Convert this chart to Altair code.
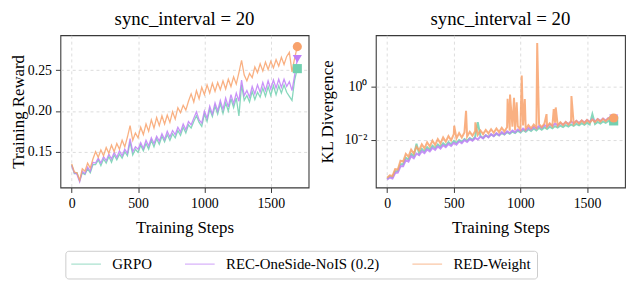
import altair as alt
import pandas as pd

FONT = "Liberation Serif"

SERIES = ["GRPO", "REC-OneSide-NoIS (0.2)", "RED-Weight"]
COLORS = ["#72d0b0", "#bf80f7", "#f8a26c"]
SHAPES = ["square", "triangle-down", "circle"]

STEPS = list(range(0, 1701, 20))

GRPO_REWARD = [
    .134, .123, .124, .114, .124, .122, .129, .124, .134, .134,
    .140, .133, .141, .136, .144, .137, .146, .140, .147, .142,
    .150, .145, .162, .146, .153, .149, .158, .151, .160, .153,
    .164, .156, .166, .159, .169, .162, .171, .164, .172, .167,
    .176, .170, .180, .173, .183, .179, .187, .194, .186, .181,
    .196, .187, .202, .193, .206, .196, .209, .197, .210, .200,
    .215, .204, .216, .194, .232, .213, .219, .211, .224, .214,
    .223, .217, .228, .218, .230, .219, .231, .220, .231, .222,
    .232, .223, .218, .213, .238, .252,
]
REC_REWARD = [
    .133, .124, .122, .113, .126, .123, .131, .126, .137, .136,
    .142, .136, .144, .139, .147, .141, .149, .143, .151, .145,
    .153, .148, .166, .150, .156, .153, .161, .154, .164, .157,
    .167, .160, .169, .163, .172, .165, .175, .168, .176, .171,
    .180, .174, .184, .177, .187, .183, .191, .199, .189, .185,
    .200, .191, .206, .196, .210, .200, .213, .202, .216, .205,
    .220, .209, .222, .212, .238, .219, .225, .217, .230, .221,
    .232, .223, .235, .225, .237, .227, .238, .228, .239, .229,
    .239, .230, .236, .225, .244, .264,
]
RED_REWARD = [
    .135, .125, .124, .115, .129, .126, .136, .130, .141, .150,
    .143, .152, .145, .155, .148, .158, .150, .160, .153, .164,
    .156, .168, .182, .164, .173, .167, .180, .171, .184, .175,
    .189, .179, .192, .182, .194, .184, .195, .186, .199, .190,
    .204, .198, .207, .201, .212, .221, .211, .225, .215, .229,
    .220, .232, .222, .234, .224, .235, .226, .237, .227, .239,
    .230, .242, .233, .247, .262, .244, .237, .246, .241, .254,
    .247, .258, .249, .260, .251, .261, .253, .263, .255, .266,
    .257, .267, .272, .248, .265, .279,
]

GRPO_KL = [
    3.4e-4, 4.2e-4, 3.9e-4, 6.5e-4, 6.6e-4, 1.2e-3, 1.2e-3, 2.1e-3, 1.8e-3, 2.9e-3,
    2.4e-3, 7.0e-3, 3.0e-3, 4.5e-3, 3.6e-3, 5.2e-3, 4.2e-3, 5.9e-3, 4.8e-3, 6.6e-3,
    5.4e-3, 7.3e-3, 6.0e-3, 8.0e-3, 6.7e-3, 8.8e-3, 7.5e-3, 9.6e-3, 8.2e-3, 1.05e-2,
    9.0e-3, 1.15e-2, 9.8e-3, 1.25e-2, 4.5e-2, 1.35e-2, 1.15e-2, 1.45e-2, 1.25e-2, 1.55e-2,
    1.35e-2, 1.65e-2, 1.45e-2, 1.75e-2, 1.55e-2, 1.9e-2, 1.65e-2, 2.0e-2, 1.75e-2, 2.15e-2,
    1.85e-2, 2.3e-2, 1.95e-2, 2.45e-2, 2.1e-2, 2.6e-2, 2.2e-2, 2.75e-2, 2.35e-2, 2.9e-2,
    2.5e-2, 3.05e-2, 2.65e-2, 3.2e-2, 2.8e-2, 3.35e-2, 2.95e-2, 3.5e-2, 3.1e-2, 3.7e-2,
    3.25e-2, 3.9e-2, 3.4e-2, 4.1e-2, 3.55e-2, 4.25e-2, 3.7e-2, 9.0e-2, 3.85e-2, 4.6e-2,
    4.0e-2, 4.8e-2, 4.2e-2, 5.0e-2, 4.4e-2, 5.2e-2,
]
REC_KL = [
    3.2e-4, 3.8e-4, 3.5e-4, 5.6e-4, 5.8e-4, 1.0e-3, 1.0e-3, 1.7e-3, 1.5e-3, 2.4e-3,
    2.0e-3, 3.0e-3, 2.6e-3, 3.7e-3, 3.1e-3, 4.3e-3, 3.6e-3, 4.9e-3, 4.1e-3, 5.5e-3,
    4.6e-3, 6.2e-3, 5.2e-3, 6.9e-3, 5.8e-3, 7.6e-3, 6.5e-3, 8.5e-3, 7.3e-3, 9.5e-3,
    8.1e-3, 1.05e-2, 9.0e-3, 1.15e-2, 1.0e-2, 1.3e-2, 1.1e-2, 1.45e-2, 1.2e-2, 1.6e-2,
    1.35e-2, 1.75e-2, 1.45e-2, 1.9e-2, 1.6e-2, 2.05e-2, 1.75e-2, 2.2e-2, 1.9e-2, 2.4e-2,
    2.05e-2, 2.6e-2, 2.2e-2, 2.8e-2, 2.4e-2, 3.0e-2, 2.6e-2, 3.25e-2, 2.8e-2, 3.5e-2,
    3.0e-2, 3.75e-2, 3.2e-2, 4.0e-2, 3.4e-2, 4.2e-2, 3.6e-2, 4.5e-2, 3.8e-2, 4.8e-2,
    4.0e-2, 5.0e-2, 4.2e-2, 5.2e-2, 4.4e-2, 5.4e-2, 4.6e-2, 5.7e-2, 4.8e-2, 5.9e-2,
    5.0e-2, 6.2e-2, 5.2e-2, 6.4e-2, 5.4e-2, 6.2e-2,
]
RED_KL = [
    3.7e-4, 4.6e-4, 4.3e-4, 7.8e-4, 7.6e-4, 1.6e-3, 1.5e-3, 2.9e-3, 2.3e-3, 4.2e-3,
    3.0e-3, 5.4e-3, 3.9e-3, 6.6e-3, 4.7e-3, 7.9e-3, 5.5e-3, 9.1e-3, 6.3e-3, 1.05e-2,
    7.2e-3, 1.2e-2, 8.3e-3, 1.35e-2, 9.4e-3, 1.6e-2, 1.1e-2, 1.75e-2, 1.2e-2, 1.85e-2,
    1.3e-2, 1.95e-2, 1.4e-2, 2.05e-2, 1.5e-2, 2.2e-2, 1.6e-2, 2.3e-2, 1.7e-2, 2.45e-2,
    1.8e-2, 2.6e-2, 1.9e-2, 2.75e-2, 2.0e-2, 2.9e-2, 2.15e-2, 3.05e-2, 2.25e-2, 3.2e-2,
    2.4e-2, 3.35e-2, 2.5e-2, 3.5e-2, 2.65e-2, 3.65e-2, 2.8e-2, 3.8e-2, 2.9e-2, 3.95e-2,
    3.05e-2, 4.1e-2, 3.2e-2, 4.3e-2, 3.35e-2, 4.45e-2, 3.5e-2, 4.6e-2, 3.65e-2, 4.8e-2,
    3.8e-2, 5.0e-2, 3.95e-2, 5.2e-2, 4.1e-2, 5.4e-2, 4.3e-2, 5.6e-2, 4.5e-2, 5.8e-2,
    4.7e-2, 6.0e-2, 4.9e-2, 6.2e-2, 5.1e-2, 6.4e-2,
]
RED_KL_SPIKE_STEPS = [503, 592, 662, 904, 922, 952, 972, 1010, 1033, 1126, 1196, 1250, 1265, 1383]
RED_KL_SPIKE_VALUES = [0.033, 0.12, 0.044, 0.34, 0.49, 0.37, 0.25, 2.5, 0.33, 41.0, 0.09, 0.14, 0.16, 0.43]

MARKER_STEP = 1700
REWARD_MARKERS = [0.252, 0.264, 0.279]
KL_MARKERS = [0.05, 0.062, 0.064]

X_TICKS = [0, 500, 1000, 1500]
REWARD_TICKS = [0.15, 0.20, 0.25]
KL_TICKS = [0.01, 1]

# ---- data tables ----
rows = []
for name, vals in zip(SERIES, [GRPO_REWARD, REC_REWARD, RED_REWARD]):
    for s, v in zip(STEPS, vals):
        rows.append({"step": s, "value": v, "series": name})
reward_df = pd.DataFrame(rows)

rows = []
for name, vals in zip(SERIES, [GRPO_KL, REC_KL, RED_KL]):
    for s, v in zip(STEPS, vals):
        rows.append({"step": s, "value": v, "series": name})
for s, v in zip(RED_KL_SPIKE_STEPS, RED_KL_SPIKE_VALUES):
    rows.append({"step": s, "value": v, "series": SERIES[2]})
kl_df = pd.DataFrame(rows).sort_values(["series", "step"])

color_scale = alt.Scale(domain=SERIES, range=COLORS)
x_scale = alt.Scale(domain=[-85, 1785], nice=False, zero=False)
x_axis = alt.Axis(values=X_TICKS, title="Training Steps", format="d", titlePadding=9)

# wide horizontal stroke drawn from a small symbol size (keeps the entry height small)
legend = alt.Legend(
    title=None, orient="none", legendX=5, legendY=218, direction="horizontal",
    symbolType="M-3,0H3", symbolSize=100, symbolStrokeWidth=1.5, symbolOpacity=0.5,
    symbolOffset=7.5, gridAlign="none", columns=3,
    labelFont=FONT, labelFontSize=15, labelColor="black", labelOffset=19,
    labelAlign="left",
    columnPadding=30, padding=6, strokeColor="#cccccc", fillColor="white",
    cornerRadius=3,
)


def panel(df, y_scale, y_axis, markers, width, stroke_w, with_legend):
    lines = alt.Chart(df).mark_line(strokeWidth=stroke_w, opacity=0.85).encode(
        x=alt.X("step:Q", scale=x_scale, axis=x_axis),
        y=alt.Y("value:Q", scale=y_scale, axis=y_axis),
        color=alt.Color("series:N", scale=color_scale,
                        legend=legend if with_legend else None),
    )
    layers = [lines]
    for name, col, shp, mv in zip(SERIES, COLORS, SHAPES, markers):
        mdf = pd.DataFrame({"step": [MARKER_STEP], "value": [mv]})
        layers.append(
            alt.Chart(mdf).mark_point(filled=True, shape=shp, size=85, opacity=1,
                                      color=col).encode(
                x=alt.X("step:Q", scale=x_scale),
                y=alt.Y("value:Q", scale=y_scale),
            )
        )
    return alt.layer(*layers).properties(
        width=width, height=154,
        title=alt.TitleParams("sync_interval = 20", fontSize=19, font=FONT,
                              fontWeight="normal", anchor="middle", offset=6,
                              color="black"),
    )


left = panel(
    reward_df,
    alt.Scale(domain=[0.106, 0.293], nice=False, zero=False),
    alt.Axis(values=REWARD_TICKS, format=".2f", title="Training Reward",
             titlePadding=0),
    REWARD_MARKERS, 251, 1.3, True,
)
right = panel(
    kl_df,
    alt.Scale(type="log", domain=[1.6e-4, 81], nice=False),
    alt.Axis(values=KL_TICKS, title="KL Divergence", titlePadding=8,
             labelExpr="datum.value >= 1 ? '10⁰' : '10⁻²'"),
    KL_MARKERS, 252, 2.0, False,
)

chart = alt.hconcat(left, right, spacing=8).properties(padding=0).configure(
    font=FONT,
).configure_view(
    stroke="#3a3a3a", strokeWidth=1.1,
).configure_legend(
    labelFont=FONT, labelFontSize=15, titleFont=FONT,
).configure_axis(
    labelFont=FONT, labelFontSize=14, labelColor="black",
    titleFont=FONT, titleFontSize=17, titleFontWeight="normal", titleColor="black",
    domain=False, tickColor="#3a3a3a", tickSize=5, labelPadding=4, titlePadding=5,
    grid=True, gridColor="#d4d4d4", gridDash=[3, 3], gridWidth=0.8,
)

chart.save("out.html", embed_options={"renderer": "svg", "actions": False})
